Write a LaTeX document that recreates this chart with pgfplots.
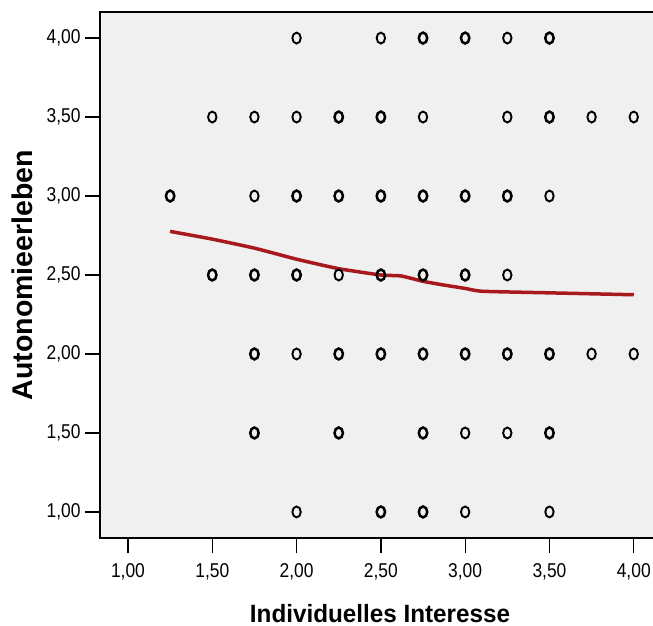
\documentclass[border=0pt]{standalone}
\usepackage{pgfplots}
\pgfplotsset{compat=1.18}
\usepackage{fontspec}
\setmainfont{Liberation Sans}
\newfontfamily\narrowfont[FakeStretch=0.87]{Liberation Sans}
\newfontfamily\labelfont[FakeStretch=0.97]{Liberation Sans}
\definecolor{bgc}{HTML}{F0F0F0}
\definecolor{loess}{HTML}{A8191E}
\begin{document}
\begin{tikzpicture}[x=1pt,y=1pt]
\path[use as bounding box] (-100,-88) rectangle (553,538);
\begin{axis}[
  at={(0,0)}, anchor=origin,
  scale only axis, width=556pt, height=526pt,
  xmin=0.834, xmax=4.132, ymin=0.835, ymax=4.165,
  axis background/.style={fill=bgc},
  axis line style={black, line width=1.2pt},
  xtick={1,1.5,2,2.5,3,3.5,4},
  ytick={1,1.5,2,2.5,3,3.5,4},
  tick align=outside,
  major tick length=15pt,
  tick style={black, line width=1.3pt},
  xtick pos=bottom, ytick pos=left,
  /pgf/number format/.cd, fixed, fixed zerofill, precision=2, use comma, assume math mode=true,
  /pgfplots/.cd,
  tick label style={font=\narrowfont\fontsize{20}{20}\selectfont},
  xticklabel style={yshift=-7pt},
  yticklabel style={xshift=-1pt},
  xlabel={\labelfont\bfseries\fontsize{25}{25}\selectfont Individuelles Interesse},
  ylabel={\bfseries\fontsize{28.5}{28.5}\selectfont Autonomieerleben},
  xlabel style={at={(axis description cs:0.5,0)}, anchor=base, yshift=-84pt, xshift=2pt},
  ylabel style={at={(axis description cs:0,0.5)}, anchor=base, yshift=67pt},
  clip=false,
]
\addplot[only marks, mark=o, mark size=4.2pt, mark options={line width=1.9pt, yscale=1.3, black}] coordinates {
(2.0,4)(2.5,4)(3.25,4)
(1.5,3.5)(1.75,3.5)(2.0,3.5)(2.75,3.5)(3.25,3.5)(3.75,3.5)(4.0,3.5)
(1.75,3)(3.5,3)
(2.25,2.5)(3.25,2.5)
(2.0,2)(3.75,2)(4.0,2)
(3.0,1.5)(3.25,1.5)
(2.0,1)(3.0,1)(3.5,1)
};
\addplot[only marks, mark=o, mark size=4.2pt, mark options={line width=2.5pt, yscale=1.3, black}] coordinates {
(2.75,4)(3.0,4)(3.5,4)
(2.25,3.5)(2.5,3.5)(3.5,3.5)
(1.25,3)(2.0,3)(2.25,3)(2.5,3)(2.75,3)(3.0,3)(3.25,3)
(1.5,2.5)(1.75,2.5)(2.0,2.5)(2.5,2.5)(2.75,2.5)(3.0,2.5)
(1.75,2)(2.25,2)(2.5,2)(2.75,2)(3.0,2)(3.25,2)(3.5,2)
(1.75,1.5)(2.25,1.5)(2.75,1.5)(3.5,1.5)
(2.5,1)(2.75,1)
};
\addplot[loess, line width=3.5pt, smooth, tension=0.3] coordinates {
(1.25,2.776)(1.5,2.727)(1.75,2.67)(2.0,2.60)(2.25,2.54)(2.5,2.50)(2.62,2.494)(2.75,2.46)(2.87,2.437)(3.0,2.415)(3.1,2.397)(3.5,2.387)(4.0,2.375)
};
\end{axis}
\end{tikzpicture}
\end{document}
